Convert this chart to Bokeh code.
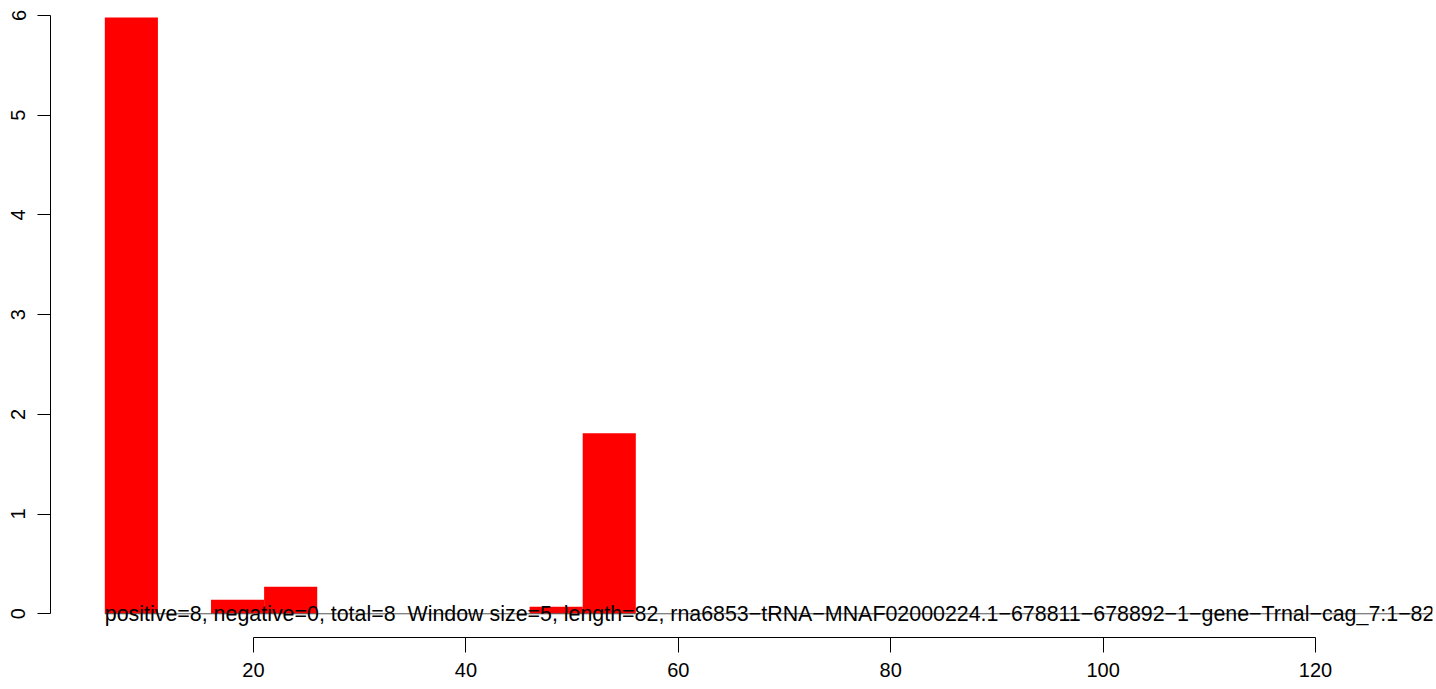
from bokeh.plotting import figure
from bokeh.models import Range1d, FixedTicker
from bokeh.core.properties import value
from bokeh.embed import file_html
from bokeh.resources import INLINE

# window start positions (width 5) and bar heights
bin_starts = [6, 11, 16, 21, 26, 31, 36, 41, 46, 51, 56, 61, 66, 71, 76]
bin_values = [5.98, 0.0, 0.14, 0.27, 0.0, 0.0, 0.0, 0.0, 0.07, 1.81, 0.0, 0.0, 0.0, 0.0, 0.0]
bin_width = 5
x_ticks = [20, 40, 60, 80, 100, 120]
y_ticks = [0, 1, 2, 3, 4, 5, 6]
caption = ("positive=8, negative=0, total=8\u00a0\u00a0Window size=5, length=82, "
           "rna6853\u2212tRNA\u2212MNAF02000224.1\u2212678811\u2212678892\u22121\u2212gene\u2212Trnal\u2212cag_7:1\u221282")

FONT = "Liberation Sans"

p = figure(width=1436, height=689, output_backend="svg", toolbar_location=None,
           x_range=Range1d(0.885, 131.02), y_range=Range1d(-0.238, 6.0))
p.min_border_left = 50
p.min_border_right = 4
p.min_border_top = 15
p.min_border_bottom = 52
p.outline_line_color = None
p.xgrid.visible = False
p.ygrid.visible = False
p.background_fill_color = "white"

lefts = bin_starts
rights = [s + bin_width for s in bin_starts]
p.quad(left=lefts, right=rights, bottom=0, top=bin_values,
       fill_color="#FF0000", line_color=None)

p.segment(x0=[bin_starts[0]], y0=[0], x1=[131.02], y1=[0], line_color="#555555", line_width=1)

p.text(x=[bin_starts[0]], y=[0], text=[caption], text_font=value(FONT),
       text_font_size="21.4px", text_baseline="alphabetic", text_align="left",
       text_color="black")

xa = p.xaxis[0]
xa.ticker = FixedTicker(ticks=x_ticks)
xa.bounds = (20, 120)
xa.major_tick_in = 0
xa.major_tick_out = 15
xa.minor_tick_line_color = None
xa.major_label_standoff = 10
xa.major_label_text_font = FONT
xa.major_label_text_font_size = "20px"
xa.major_label_text_color = "black"
xa.axis_line_color = "black"
xa.major_tick_line_color = "black"

ya = p.yaxis[0]
ya.ticker = FixedTicker(ticks=y_ticks)
ya.bounds = (0, 6)
ya.major_tick_in = 0
ya.major_tick_out = 13
ya.minor_tick_line_color = None
ya.major_label_standoff = 12
ya.major_label_orientation = "vertical"
ya.major_label_text_font = FONT
ya.major_label_text_font_size = "20px"
ya.major_label_text_color = "black"
ya.axis_line_color = "black"
ya.major_tick_line_color = "black"

open("out.html", "w").write(file_html(p, INLINE))
